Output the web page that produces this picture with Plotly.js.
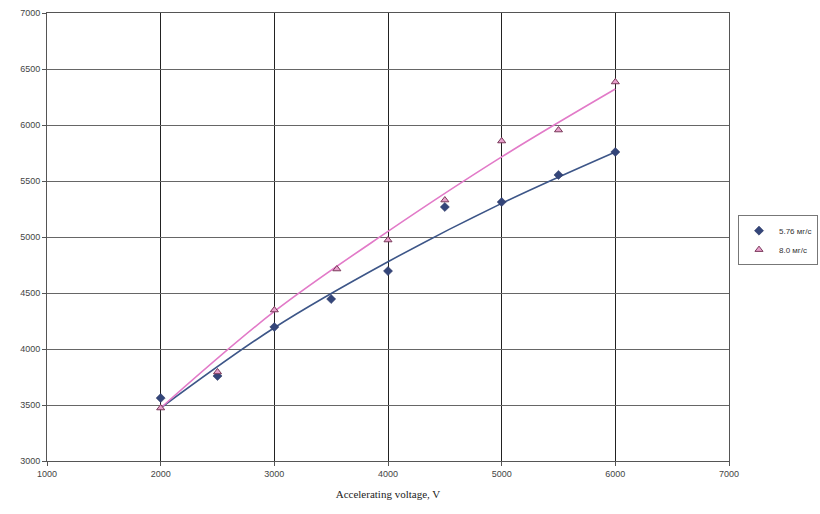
<!DOCTYPE html>
<html><head><meta charset="utf-8">
<script src="https://cdn.plot.ly/plotly-3.0.1.min.js"></script>
<style>html,body{margin:0;padding:0;background:#fff}#c{width:820px;height:514px}</style>
</head><body><div id="c"></div>
<script>
const voltage = [2000, 2500, 3000, 3500, 4000, 4500, 5000, 5500, 6000];
const voltageS2 = [2000, 2500, 3000, 3550, 4000, 4500, 5000, 5500, 6000];
const series1 = [3562, 3759, 4196, 4446, 4696, 5268, 5312, 5554, 5759];
const series2 = [3473, 3795, 4348, 4714, 4973, 5330, 5857, 5955, 6384];
const trendX = [2000, 3000, 4000, 5000, 6000];
const trend1 = [3473, 4190, 4779, 5300, 5759];
const trend2 = [3473, 4335, 5050, 5715, 6321];
const name1 = "5.76 мг/с";
const name2 = "8.0 мг/с";

const data = [
  {x: trendX, y: trend1, mode: 'lines', line: {color: '#3d5688', width: 1.6, shape: 'spline'}, showlegend: false, hoverinfo: 'skip'},
  {x: trendX, y: trend2, mode: 'lines', line: {color: '#e27ac8', width: 1.6, shape: 'spline'}, showlegend: false, hoverinfo: 'skip'},
  {x: voltage, y: series1, name: name1, mode: 'markers', marker: {symbol: 'diamond', size: 7, color: '#34467a', line: {color: '#2a3560', width: 0.5}}},
  {x: voltageS2, y: series2, name: name2, mode: 'markers', marker: {symbol: 'triangle-up', size: 7, color: '#e8a0cc', line: {color: '#7a3a5a', width: 1}}}
];

const layout = {
  width: 820, height: 514,
  margin: {l: 47, r: 91, t: 13, b: 53, autoexpand: false},
  paper_bgcolor: '#ffffff', plot_bgcolor: '#ffffff',
  font: {family: 'Liberation Sans, Arial, sans-serif', size: 9, color: '#333'},
  xaxis: {
    range: [1000, 7000], dtick: 1000, tick0: 1000, showgrid: true, gridcolor: '#222', gridwidth: 1,
    zeroline: false, showline: true, linecolor: '#555', linewidth: 1, mirror: true,
    ticks: 'outside', ticklen: 4, tickcolor: '#555', tickfont: {size: 9, color: '#444'},
    title: {text: 'Accelerating voltage, V', font: {family: 'Liberation Serif, Times New Roman, serif', size: 11, color: '#222'}, standoff: 12}
  },
  yaxis: {
    range: [3000, 7000], dtick: 500, tick0: 3000, showgrid: true, gridcolor: '#666', gridwidth: 1,
    zeroline: false, showline: true, linecolor: '#555', linewidth: 1, mirror: true,
    ticks: 'outside', ticklen: 4, tickcolor: '#555', tickfont: {size: 9, color: '#444'}
  },
  legend: {
    x: 1, xref: 'paper', y: 0.493, yanchor: 'middle', xanchor: 'right',
    bordercolor: '#777', borderwidth: 1, bgcolor: '#fff',
    font: {size: 8, color: '#333'}, tracegroupgap: 0, itemwidth: 30
  },
  showlegend: true
};
layout.legend.x = (818 - 47) / (820 - 47 - 91);
Plotly.newPlot('c', data, layout, {displayModeBar: false, staticPlot: true});
</script></body></html>
